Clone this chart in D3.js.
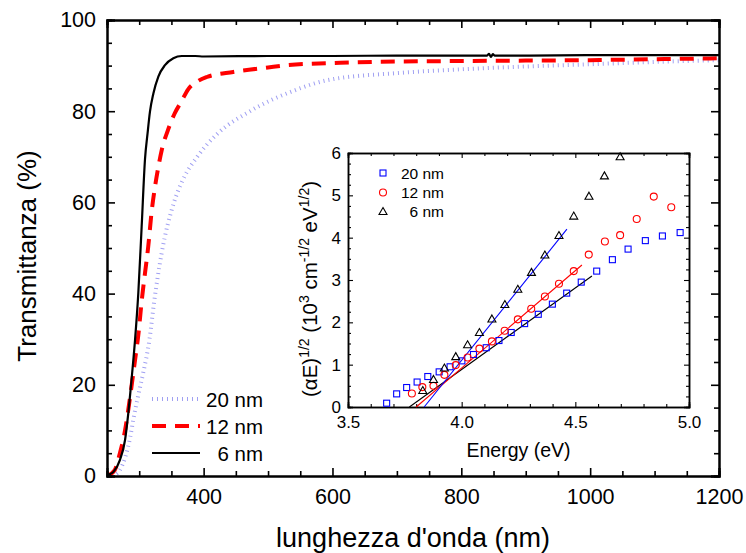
<!DOCTYPE html>
<html><head><meta charset="utf-8">
<script src="https://cdnjs.cloudflare.com/ajax/libs/d3/7.8.5/d3.min.js"></script>
<style>body{margin:0;background:#fff}svg{display:block;font-family:"Liberation Sans",Arial,sans-serif}</style>
</head><body>
<script>
// ---------- main chart data: transmittance vs wavelength ----------
const wl6 = [250,252,260,270,278,283,288,293.5,298.6,303.8,309,313,316.7,322,329.7,340,353,366,387,400,500,600,700,800,840,843,846,849,852,900,1000,1100,1200];
const T6  = [0,0.2,0.9,3.5,7.9,13.7,21,29.8,40.1,54.7,69.5,75.2,79.9,83.9,87.6,90.1,91.6,92.1,92.1,92.0,92.1,92.1,92.2,92.2,92.2,92.6,91.9,92.5,92.2,92.2,92.3,92.3,92.3];
const wl12 = [250,262,270,278,283,288,293.5,299,304,309,314,319,324.5,330,335,345,355,365,376,390,405,446,500,530,612,705,800,900,1000,1100,1200];
const T12  = [0,1.3,5,10,14.5,19.6,25.4,31.4,38.6,44.5,50.3,57.6,63.4,68,71.5,76,79.5,82,84.8,86.5,87.5,88.6,89.6,90.1,90.6,90.9,91.0,91.1,91.2,91.4,91.6];
const wl20 = [250,262,270,278,286,291,299,306,316,323,335,354,368,390,421,472,540,592,705,800,900,1000,1100,1200];
const T20  = [0,0.3,1.3,4,8.5,12.5,18,22.5,30,38,49,60,65,70,75,80,84.5,86.8,88.4,89.2,89.8,90.3,90.8,91.2];
const mainLabels = ["20 nm","12 nm","6 nm"];
const xTicksMain = [400,600,800,1000,1200];
const yTicksMain = [0,20,40,60,80,100];

// ---------- inset data: (alpha E)^1/2 vs energy ----------
const E20 = [3.670,3.714,3.758,3.804,3.851,3.901,3.949,4.001,4.052,4.108,4.164,4.218,4.277,4.337,4.399,4.462,4.526,4.594,4.663,4.732,4.808,4.883,4.961];
const V20 = [0.09,0.31,0.46,0.59,0.72,0.83,0.95,1.09,1.24,1.40,1.57,1.76,1.97,2.19,2.43,2.69,2.95,3.21,3.48,3.73,3.93,4.04,4.12];
const E12 = [3.781,3.827,3.876,3.924,3.974,4.026,4.078,4.133,4.189,4.247,4.306,4.366,4.428,4.493,4.559,4.630,4.697,4.770,4.845,4.922];
const V12 = [0.32,0.47,0.50,0.76,0.99,1.17,1.38,1.55,1.80,2.07,2.32,2.61,2.91,3.21,3.60,3.91,4.06,4.44,4.97,4.72];
const E6  = [3.829,3.876,3.924,3.974,4.026,4.078,4.133,4.190,4.247,4.307,4.366,4.428,4.493,4.560,4.628,4.697];
const V6  = [0.39,0.65,0.92,1.19,1.47,1.76,2.08,2.42,2.78,3.18,3.59,4.05,4.51,4.98,5.46,5.91];
// linear fits: [start energy, end energy] and [start value, end value]
const fitE20 = [3.770,4.573], fitV20 = [0,3.095];
const fitE12 = [3.800,4.529], fitV12 = [0,3.355];
const fitE6  = [3.835,4.463], fitV6  = [0,4.20];
const insetXTicks = [3.5,4.0,4.5,5.0];
const insetYTicks = [0,1,2,3,4,5,6];

const W = 746, H = 553;
const svg = d3.select("body").append("svg").attr("width",W).attr("height",H);

// ---------------- MAIN ----------------
const m = {l:107, r:719, t:20, b:476};
const x = d3.scaleLinear().domain([250,1200]).range([m.l,m.r]);
const y = d3.scaleLinear().domain([0,100]).range([m.b,m.t]);

const line = d3.line().x(d=>x(d[0])).y(d=>y(d[1])).curve(d3.curveMonotoneX);
const zip = (a,b)=>a.map((v,i)=>[v,b[i]]);

const styles = [
  {stroke:"#a0a0f2", width:4, dash:"1,4"},
  {stroke:"#ff0000", width:4, dash:"14,9"},
  {stroke:"#000000", width:2.2, dash:null}
];
const series = [zip(wl20,T20), zip(wl12,T12), zip(wl6,T6)];
svg.append("clipPath").attr("id","mclip").append("rect")
  .attr("x",m.l).attr("y",m.t).attr("width",m.r-m.l).attr("height",m.b-m.t);
series.forEach((s,i)=>{
  svg.append("path").attr("d",line(s)).attr("fill","none")
    .attr("stroke",styles[i].stroke).attr("stroke-width",styles[i].width)
    .attr("stroke-dasharray",styles[i].dash).attr("clip-path","url(#mclip)");
});

const gAx = svg.append("g");
const minorMainX = d3.range(250,1201,50).filter(v=>!xTicksMain.includes(v));
const minorMainY = d3.range(0,101,5).filter(v=>v%20);
[[d3.axisBottom(x).tickValues(xTicksMain).tickSize(-8).tickPadding(13).tickFormat(d3.format("d")),`translate(0,${m.b})`],
 [d3.axisBottom(x).tickValues(minorMainX).tickSize(-5).tickFormat(""),`translate(0,${m.b})`],
 [d3.axisTop(x).tickValues(xTicksMain).tickSize(-8).tickFormat(""),`translate(0,${m.t})`],
 [d3.axisTop(x).tickValues(minorMainX).tickSize(-5).tickFormat(""),`translate(0,${m.t})`],
 [d3.axisLeft(y).tickValues(yTicksMain).tickSize(-8).tickPadding(11).tickFormat(d3.format("d")),`translate(${m.l},0)`],
 [d3.axisLeft(y).tickValues(minorMainY).tickSize(-5).tickFormat(""),`translate(${m.l},0)`],
 [d3.axisRight(y).tickValues(yTicksMain).tickSize(-8).tickFormat(""),`translate(${m.r},0)`],
 [d3.axisRight(y).tickValues(minorMainY).tickSize(-5).tickFormat(""),`translate(${m.r},0)`]].forEach(([a,t])=>{
  const g = gAx.append("g").attr("transform",t).call(a);
  g.select(".domain").attr("stroke","#000").attr("stroke-width",2);
  g.selectAll(".tick line").attr("stroke","#000").attr("stroke-width",1.6);
  g.selectAll("text").attr("font-size",21.5).attr("fill","#000").attr("font-family","Liberation Sans, Arial, sans-serif");
});

svg.append("text").attr("x",(m.l+m.r)/2).attr("y",547).attr("text-anchor","middle")
  .attr("font-size",27).text("lunghezza d'onda (nm)");
svg.append("text").attr("transform","translate(36,256) rotate(-90)").attr("text-anchor","middle")
  .attr("font-size",26).text("Transmittanza (%)");

// main legend
const legY = [399,426,453];
mainLabels.forEach((lab,i)=>{
  svg.append("line").attr("x1",152).attr("x2",200).attr("y1",legY[i]).attr("y2",legY[i])
    .attr("stroke",styles[i].stroke).attr("stroke-width",styles[i].width).attr("stroke-dasharray",styles[i].dash);
  svg.append("text").attr("x",263).attr("y",legY[i]+7.5).attr("text-anchor","end").attr("font-size",20.5).text(lab);
});

// ---------------- INSET ----------------
const n = {l:348, r:689, t:153, b:407};
const ix = d3.scaleLinear().domain([3.5,5.0]).range([n.l,n.r]);
const iy = d3.scaleLinear().domain([0,6]).range([n.b,n.t]);
svg.append("rect").attr("x",n.l).attr("y",n.t).attr("width",n.r-n.l).attr("height",n.b-n.t).attr("fill","#fff");

const gI = svg.append("g");
const minorX = d3.range(35,51,1).map(v=>v/10).filter(v=>!insetXTicks.some(t=>Math.abs(t-v)<1e-6));
const minorY = d3.range(0,25,1).map(v=>v/4).filter(v=>v%1);
[[d3.axisBottom(ix).tickValues(insetXTicks).tickSize(-5).tickPadding(9).tickFormat(d3.format(".1f")),`translate(0,${n.b})`],
 [d3.axisBottom(ix).tickValues(minorX).tickSize(-3).tickFormat(""),`translate(0,${n.b})`],
 [d3.axisTop(ix).tickValues(insetXTicks).tickSize(-5).tickFormat(""),`translate(0,${n.t})`],
 [d3.axisTop(ix).tickValues(minorX).tickSize(-3).tickFormat(""),`translate(0,${n.t})`],
 [d3.axisLeft(iy).tickValues(insetYTicks).tickSize(-5).tickPadding(7).tickFormat(d3.format("d")),`translate(${n.l},0)`],
 [d3.axisLeft(iy).tickValues(minorY).tickSize(-3).tickFormat(""),`translate(${n.l},0)`],
 [d3.axisRight(iy).tickValues(insetYTicks).tickSize(-5).tickFormat(""),`translate(${n.r},0)`],
 [d3.axisRight(iy).tickValues(minorY).tickSize(-3).tickFormat(""),`translate(${n.r},0)`]].forEach(([a,t])=>{
  const g = gI.append("g").attr("transform",t).call(a);
  g.select(".domain").attr("stroke","#000").attr("stroke-width",1.5);
  g.selectAll(".tick line").attr("stroke","#000").attr("stroke-width",1.1);
  g.selectAll("text").attr("font-size",17).attr("fill","#000").attr("font-family","Liberation Sans, Arial, sans-serif");
});

// fit lines
[[fitE20,fitV20,"#000000"],[fitE12,fitV12,"#ff0000"],[fitE6,fitV6,"#0000ff"]].forEach(([e,v,c])=>{
  svg.append("line").attr("x1",ix(e[0])).attr("y1",iy(v[0])).attr("x2",ix(e[1])).attr("y2",iy(v[1]))
    .attr("stroke",c).attr("stroke-width",1.1);
});

// markers
const sq = 6, cr = 3.5, tr = 4;
const triPath = (cx,cy)=>`M${cx},${cy-tr}L${cx+tr},${cy+tr*0.75}L${cx-tr},${cy+tr*0.75}Z`;
function drawSq(cx,cy){svg.append("rect").attr("x",cx-sq/2).attr("y",cy-sq/2).attr("width",sq).attr("height",sq)
  .attr("fill","none").attr("stroke","#0000ff").attr("stroke-width",1.1);}
function drawCi(cx,cy){svg.append("circle").attr("cx",cx).attr("cy",cy).attr("r",cr)
  .attr("fill","none").attr("stroke","#ff0000").attr("stroke-width",1.1);}
function drawTr(cx,cy){svg.append("path").attr("d",triPath(cx,cy))
  .attr("fill","none").attr("stroke","#000").attr("stroke-width",1.1);}
E20.forEach((e,i)=>drawSq(ix(e),iy(V20[i])));
E12.forEach((e,i)=>drawCi(ix(e),iy(V12[i])));
E6.forEach((e,i)=>drawTr(ix(e),iy(V6[i])));

// inset legend
const iLegY = [173,192.5,211.5];
drawSq(383,iLegY[0]); drawCi(383,iLegY[1]); drawTr(383,iLegY[2]);
mainLabels.forEach((lab,i)=>{
  svg.append("text").attr("x",444).attr("y",iLegY[i]+5.5).attr("text-anchor","end").attr("font-size",15.5).text(lab);
});

// inset axis titles
svg.append("text").attr("x",(n.l+n.r)/2).attr("y",457).attr("text-anchor","middle").attr("font-size",19.5).text("Energy (eV)");
const yl = svg.append("text").attr("transform","translate(317,289) rotate(-90)").attr("text-anchor","middle").attr("font-size",20.5);
const sup = (t)=>yl.append("tspan").attr("font-size",14).attr("baseline-shift","super").text(t);
const nor = (t)=>yl.append("tspan").text(t);
nor("(\u03B1E)"); sup("1/2"); nor(" (10"); sup("3"); nor(" cm"); sup("-1/2"); nor(" eV"); sup("1/2"); nor(")");
</script>
</body></html>
